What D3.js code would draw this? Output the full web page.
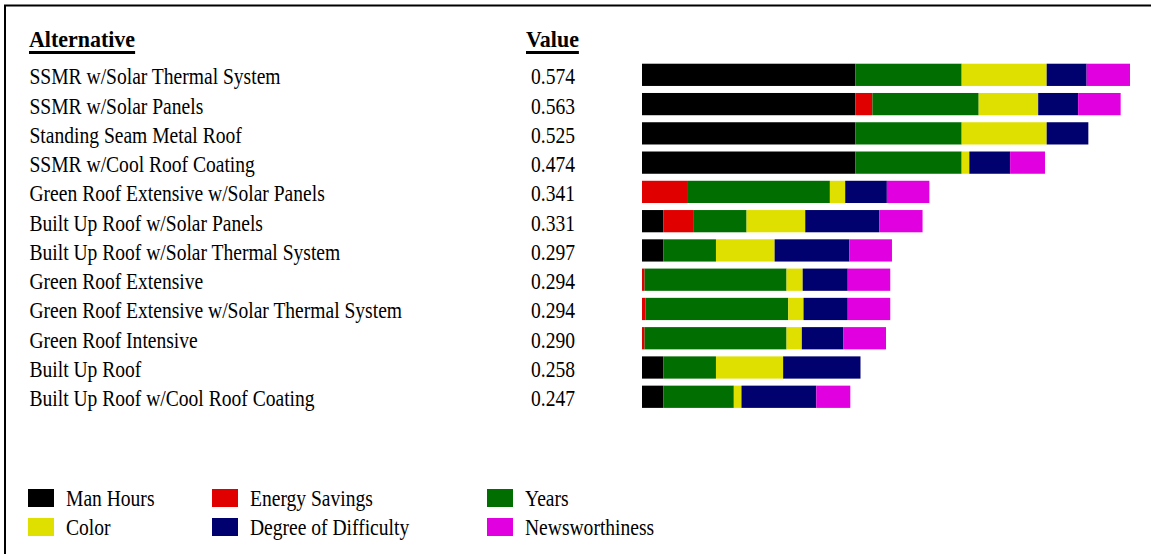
<!DOCTYPE html>
<html>
<head>
<meta charset="utf-8">
<script src="https://cdn.jsdelivr.net/npm/d3@7"></script>
<style>
  body { margin: 0; background: #fff; }
  text { font-family: "Liberation Serif", "Times New Roman", serif; fill: #000; }
</style>
</head>
<body>
<div id="chart"></div>
<script>
// alternatives, top to bottom
var alternatives = [
  "SSMR w/Solar Thermal System",
  "SSMR w/Solar Panels",
  "Standing Seam Metal Roof",
  "SSMR w/Cool Roof Coating",
  "Green Roof Extensive w/Solar Panels",
  "Built Up Roof w/Solar Panels",
  "Built Up Roof w/Solar Thermal System",
  "Green Roof Extensive",
  "Green Roof Extensive w/Solar Thermal System",
  "Green Roof Intensive",
  "Built Up Roof",
  "Built Up Roof w/Cool Roof Coating"
];
var values = ["0.574", "0.563", "0.525", "0.474", "0.341", "0.331", "0.297", "0.294", "0.294", "0.290", "0.258", "0.247"];

// criteria, in stacking order
var criteria = ["Man Hours", "Energy Savings", "Years", "Color", "Degree of Difficulty", "Newsworthiness"];
var colors = ["#000000", "#e00000", "#006e00", "#e0e000", "#00006e", "#e000e0"];

// weighted contribution of each criterion
var manHours      = [0.251, 0.251, 0.251, 0.251, 0,     0.025, 0.025, 0,     0,     0,     0.025, 0.025];
var energySavings = [0,     0.020, 0,     0,     0.053, 0.036, 0,     0.003, 0.004, 0.003, 0,     0];
var years         = [0.125, 0.125, 0.125, 0.125, 0.168, 0.062, 0.062, 0.167, 0.168, 0.167, 0.062, 0.083];
var color         = [0.100, 0.070, 0.100, 0.009, 0.018, 0.069, 0.069, 0.019, 0.018, 0.018, 0.079, 0.009];
var difficulty    = [0.047, 0.047, 0.049, 0.048, 0.049, 0.087, 0.088, 0.053, 0.052, 0.049, 0.091, 0.088];
var newsworthy    = [0.051, 0.050, 0,     0.041, 0.050, 0.051, 0.050, 0.050, 0.050, 0.050, 0,     0.040];

var W = 1151, H = 554;

var svg = d3.select("#chart").append("svg")
  .attr("width", W)
  .attr("height", H);

// frame (runs off the right and bottom edge)
svg.append("rect")
  .attr("x", 5).attr("y", 5.5)
  .attr("width", W + 10).attr("height", H + 10)
  .attr("fill", "none")
  .attr("stroke", "#000")
  .attr("stroke-width", 2);

// build table rows
var rows = alternatives.map(function(name, i) {
  var r = { name: name, value: values[i] };
  r["Man Hours"] = manHours[i];
  r["Energy Savings"] = energySavings[i];
  r["Years"] = years[i];
  r["Color"] = color[i];
  r["Degree of Difficulty"] = difficulty[i];
  r["Newsworthiness"] = newsworthy[i];
  return r;
});

var stack = d3.stack().keys(criteria)(rows);

// scales
var x = d3.scaleLinear().domain([0, 0.574]).range([642, 1130]);
var y = d3.scaleBand().domain(alternatives)
  .range([60.2, 411.4])
  .paddingInner(0.24)
  .paddingOuter(0.12);
var fill = d3.scaleOrdinal().domain(criteria).range(colors);

// condensed text helper
function label(g, tx, ty, txt, bold) {
  return g.append("text")
    .attr("transform", "translate(" + tx + "," + ty + ") scale(" + (bold ? 0.915 : 0.815) + ",1)")
    .attr("font-size", 24)
    .attr("font-weight", bold ? "bold" : null)
    .text(txt);
}

// headers
function header(txt, hx) {
  var t = label(svg, hx, 47.3, txt, true);
  var w = t.node().getComputedTextLength() * 0.915;
  svg.append("rect")
    .attr("x", hx).attr("y", 51)
    .attr("width", w).attr("height", 3)
    .attr("fill", "#000");
}
header("Alternative", 29);
header("Value", 526);

var labels = svg.append("g");
alternatives.forEach(function(name, i) {
  label(labels, 29.5, y(name) + 20.6, name);
  label(labels, 531, y(name) + 20.6, values[i]);
});

// stacked bars
svg.append("g").selectAll("g")
  .data(stack)
  .join("g")
    .attr("fill", function(d) { return fill(d.key); })
  .selectAll("rect")
  .data(function(d) { return d; })
  .join("rect")
    .attr("x", function(d) { return x(d[0]); })
    .attr("y", function(d) { return y(d.data.name); })
    .attr("width", function(d) { return x(d[1]) - x(d[0]); })
    .attr("height", y.bandwidth());

// legend
var legX = [28, 212, 487];
var legend = svg.append("g");
criteria.forEach(function(c, i) {
  var col = i % 3, row = Math.floor(i / 3);
  var ly = 489 + row * 29;
  legend.append("rect")
    .attr("x", legX[col]).attr("y", ly)
    .attr("width", 26).attr("height", 18)
    .attr("fill", fill(c));
  label(legend, legX[col] + 38, ly + 17, c);
});
</script>
</body>
</html>
